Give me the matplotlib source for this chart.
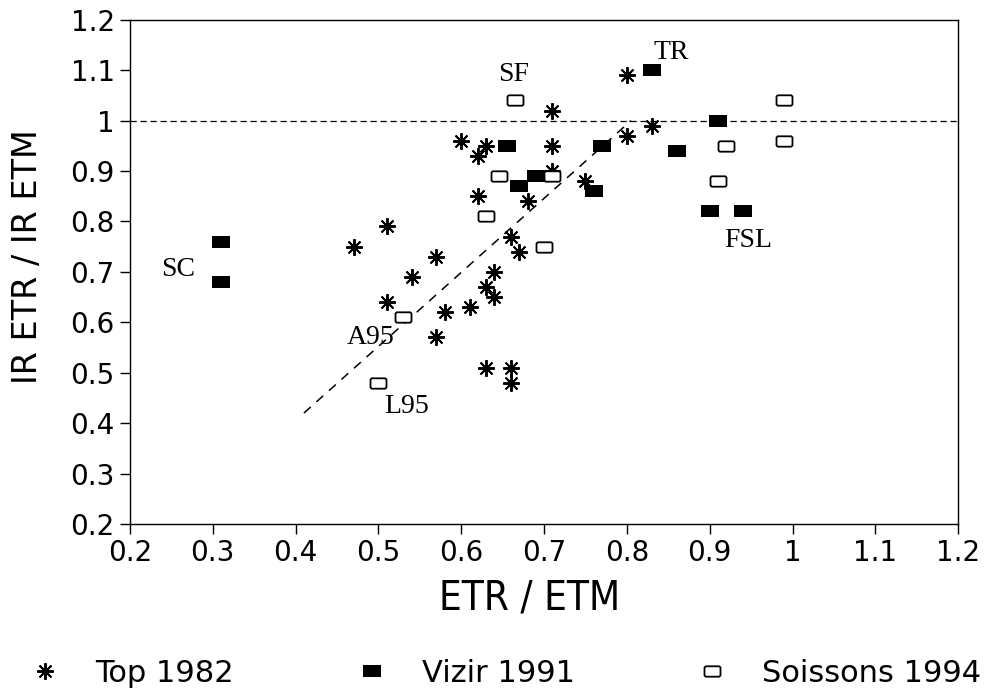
import matplotlib
matplotlib.use("Agg")
import matplotlib.pyplot as plt
from matplotlib.path import Path

# Top 1982 (asterisks)
top_x = [0.47, 0.51, 0.51, 0.54, 0.57, 0.58, 0.57, 0.60, 0.62, 0.63, 0.62, 0.61, 0.63, 0.64,
         0.64, 0.63, 0.66, 0.66, 0.66, 0.67, 0.68, 0.71, 0.71, 0.71, 0.75, 0.80, 0.80, 0.83]
top_y = [0.75, 0.79, 0.64, 0.69, 0.73, 0.62, 0.57, 0.96, 0.93, 0.95, 0.85, 0.63, 0.67, 0.70,
         0.65, 0.51, 0.51, 0.48, 0.77, 0.74, 0.84, 0.90, 0.95, 1.02, 0.88, 1.09, 0.97, 0.99]

# Vizir 1991 (filled squares)
vizir_x = [0.31, 0.31, 0.655, 0.67, 0.69, 0.76, 0.77, 0.83, 0.86, 0.91, 0.90, 0.94]
vizir_y = [0.76, 0.68, 0.95, 0.87, 0.89, 0.86, 0.95, 1.10, 0.94, 1.00, 0.82, 0.82]

# Soissons 1994 (open squares)
soi_x = [0.50, 0.53, 0.63, 0.645, 0.665, 0.70, 0.71, 0.91, 0.92, 0.99, 0.99]
soi_y = [0.48, 0.61, 0.81, 0.89, 1.04, 0.75, 0.89, 0.88, 0.95, 0.96, 1.04]

# dashed trend line
trend_x = [0.41, 0.805]
trend_y = [0.42, 1.00]

# site labels
site_names = ["SC", "SF", "TR", "FSL", "A95", "L95"]
site_x = [0.258, 0.663, 0.854, 0.947, 0.490, 0.534]
site_y = [0.705, 1.092, 1.135, 0.763, 0.569, 0.433]

ticks = [0.2, 0.3, 0.4, 0.5, 0.6, 0.7, 0.8, 0.9, 1.0, 1.1, 1.2]
tick_labels = ["0.2", "0.3", "0.4", "0.5", "0.6", "0.7", "0.8", "0.9", "1", "1.1", "1.2"]

plt.rcParams["font.family"] = ["DejaVu Sans"]

# wide flat box markers
rect = Path([(-1, -0.7), (1, -0.7), (1, 0.7), (-1, 0.7), (-1, -0.7)],
            [Path.MOVETO, Path.LINETO, Path.LINETO, Path.LINETO, Path.CLOSEPOLY])
rrect = Path([(-0.85, -0.65), (0.85, -0.65), (1, -0.5), (1, 0.5), (0.85, 0.65),
              (-0.85, 0.65), (-1, 0.5), (-1, -0.5), (-0.85, -0.65)],
             [Path.MOVETO] + [Path.LINETO] * 7 + [Path.CLOSEPOLY])

fig = plt.figure(figsize=(9.96, 6.94), dpi=100)
ax = fig.add_axes([0.1305, 0.245, 0.8315, 0.7265])

ax.axhline(1.0, color="black", lw=0.9, ls=(0, (5, 3)))
ax.plot(trend_x, trend_y, color="black", lw=1.1, ls=(0, (6, 5)))

ax.plot(top_x, top_y, ls="none", marker=(8, 2, 0), ms=12, mew=1.4,
        color="black", label="Top 1982")
ax.plot(vizir_x, vizir_y, ls="none", marker=rect, ms=12.5, mew=0,
        color="black", label="Vizir 1991")
ax.plot(soi_x, soi_y, ls="none", marker=rrect, ms=11.5, mew=1.3,
        mfc="white", mec="black", label="Soissons 1994")

for name, x, y in zip(site_names, site_x, site_y):
    ax.text(x, y, name, family="Liberation Serif", fontsize=20,
            ha="center", va="center")

ax.set_xlim(0.2, 1.2)
ax.set_ylim(0.2, 1.2)
ax.set_xticks(ticks)
ax.set_xticklabels(tick_labels)
ax.set_yticks(ticks)
ax.set_yticklabels(tick_labels)
ax.tick_params(direction="out", length=7, width=1, labelsize=20, pad=4)

for sp in ax.spines.values():
    sp.set_linewidth(1.0)

ax.set_xlabel("ETR / ETM", family="DejaVu Sans", stretch="condensed", fontsize=29)
ax.xaxis.set_label_coords(0.483, -0.108)
ax.set_ylabel("IR ETR / IR ETM", fontsize=24, va="center")
ax.yaxis.set_label_coords(-0.124, 0.53)

fig.legend(loc="center left", bbox_to_anchor=(30 / 996, 1 - 673 / 694), ncol=3,
           frameon=False, fontsize=22, borderpad=0, borderaxespad=0,
           handlelength=1.0, handletextpad=1.14, columnspacing=4.0,
           numpoints=1)

fig.savefig("out.png", dpi=100)
